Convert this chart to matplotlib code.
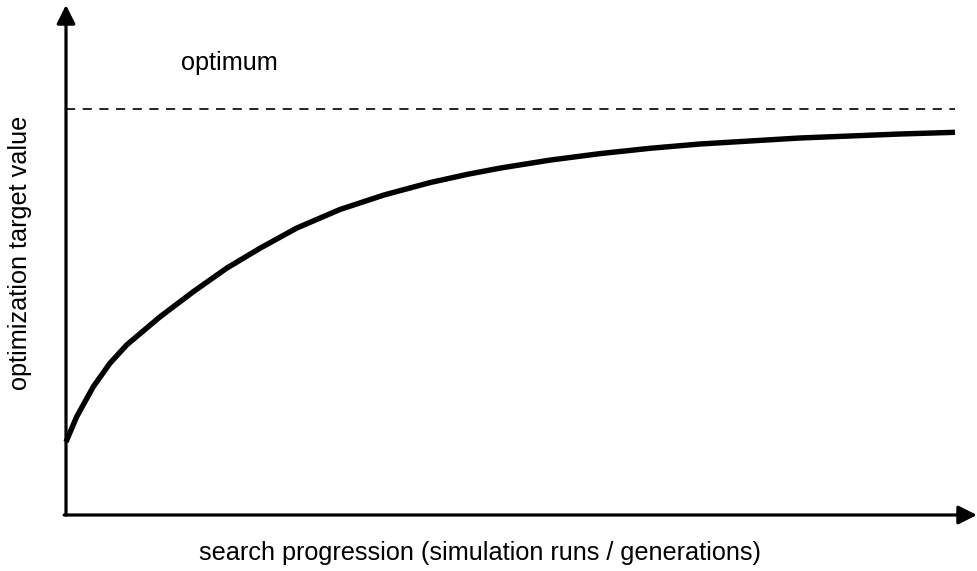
"""Sketch of a typical optimisation convergence curve approaching the optimum."""

import matplotlib
matplotlib.use("Agg")
import matplotlib.pyplot as plt

plt.rcParams["font.family"] = ["Liberation Sans", "DejaVu Sans"]

# search progression (0..100) vs. target value (optimum = 100)
progress = [0.0, 1.2, 3.07, 4.95, 6.83, 10.57, 14.32, 18.08, 21.82, 25.95,
            30.82, 35.77, 40.94, 45.22, 48.82, 54.44, 60.07, 65.69, 71.32,
            82.56, 93.81, 100.0]
target = [18.0, 24.2, 31.6, 37.4, 41.9, 48.8, 55.0, 60.8, 65.7, 70.67,
          75.25, 78.82, 81.87, 83.94, 85.44, 87.41, 89.01, 90.32, 91.38,
          92.86, 93.84, 94.26]
optimum = 100.0

W, H = 977, 571
fig = plt.figure(figsize=(W / 100, H / 100), dpi=100)
# axes run from the origin (66, 515 px) to the arrow tips (977, 5 px)
ax = fig.add_axes([66 / W, (H - 515) / H, (977 - 66) / W, (515 - 5) / H])
ax.set_xlim(0, 100 * (977 - 66) / 889)
ax.set_ylim(0, 100 * (515 - 5) / 406)
for s in ax.spines.values():
    s.set_visible(False)
ax.set_xticks([])
ax.set_yticks([])
ax.patch.set_alpha(0)

ax.plot(progress, target, color="black", lw=3.9, solid_capstyle="butt",
        solid_joinstyle="round", clip_on=False, zorder=3)
ax.plot([0, 100], [optimum, optimum], color="black", lw=1.2,
        ls=(0, (5.5, 4.5)), zorder=2)

arrow = dict(arrowstyle="-|>,head_length=0.8,head_width=0.4", color="black",
             lw=2.3, shrinkA=0, shrinkB=0, mutation_scale=14)
ax.annotate("", xy=(0, 1), xytext=(0, 0), xycoords="axes fraction",
            arrowprops=arrow)
ax.annotate("", xy=(1, 0), xytext=(-0.002, 0), xycoords="axes fraction",
            arrowprops=arrow)

ax.text(12.9, 109.5, "optimum", fontsize=18.2, ha="left", va="baseline")
fig.text(20 / W, 1 - 253 / H, "optimization target value", rotation=90,
         fontsize=18.2, ha="center", va="center")
fig.text(480 / W, 1 - 553 / H,
         "search progression (simulation runs / generations)",
         fontsize=18.2, ha="center", va="center")

fig.savefig("out.png", dpi=100)
